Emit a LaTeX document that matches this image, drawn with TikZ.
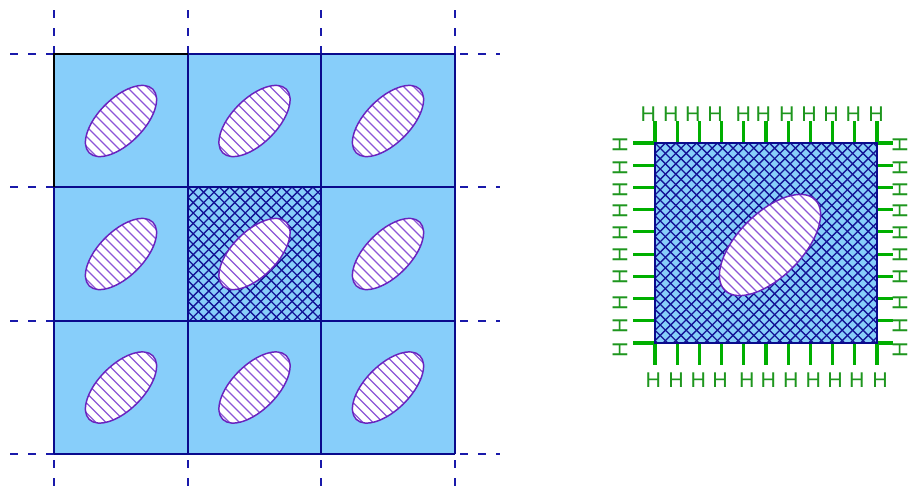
\documentclass[tikz,border=0pt]{standalone}
\usepackage{fontspec}
\setmainfont{Liberation Sans}
\definecolor{skyfill}{RGB}{135,206,250}
\definecolor{gridblue}{RGB}{10,10,140}
\definecolor{dashblue}{RGB}{25,25,170}
\definecolor{meshblue}{RGB}{20,20,150}
\definecolor{ovalline}{RGB}{105,35,190}
\definecolor{ovalhatch}{RGB}{140,85,215}
\definecolor{tickgreen}{RGB}{0,175,0}
\definecolor{labelgreen}{RGB}{30,150,30}

% A white oval tilted by 45 degrees, filled with diagonal hatching
\newcommand\hatchedoval[4]{% cx, cy, semi-major, semi-minor
  \begin{scope}
    \clip[rotate around={45:(#1,#2)}] (#1,#2) ellipse [x radius=#3, y radius=#4];
    \fill[white] ({#1-#3},{#2-#3}) rectangle ({#1+#3},{#2+#3});
    \foreach \k in {-10,...,10}
      \draw[hatchline] ({#1-#3+\k*10},{#2-#3}) -- ++({2*#3},{2*#3});
  \end{scope}
  \draw[ovalborder, rotate around={45:(#1,#2)}] (#1,#2) ellipse [x radius=#3, y radius=#4];
}
% Diagonal cross-hatching inside a rectangle (x1,y1)-(x2,y2)
\newcommand\crossmesh[4]{%
  \begin{scope}
    \clip (#1,#2) rectangle (#3,#4);
    \foreach \k in {-22,...,45} {
      \draw[meshline] ({#1+\k*10.4},#2) -- ++(230,230);
      \draw[meshline] ({#1+\k*10.4},#2) -- ++(-230,230);
    }
  \end{scope}
}

\begin{document}
\begin{tikzpicture}[x=0.75pt, y=-0.75pt,
  gridline/.style={draw=gridblue, line width=1.5pt},
  dashline/.style={draw=dashblue, line width=1.1pt, dash pattern=on 6pt off 7.5pt},
  hatchline/.style={draw=ovalhatch, line width=0.85pt},
  ovalborder/.style={draw=ovalline, line width=1.1pt},
  meshline/.style={draw=meshblue, line width=1pt},
  tick/.style={draw=tickgreen, line width=2.3pt},
  hlabel/.style={text=labelgreen, font=\fontsize{16}{16}\selectfont, inner sep=0pt, anchor=center}]
\useasboundingbox (0,0) rectangle (912,493);

% ---- periodic cell array ----
\foreach \p in {54,188,321,455} {
  \draw[dashline] (\p,10) -- (\p,493);
}
\foreach \p in {54,187,321,454} {
  \draw[dashline] (10,\p) -- (500,\p);
}
\fill[skyfill] (54,54) rectangle (455,454);
\crossmesh{188}{187}{321}{321}
\foreach \cx in {121,254.5,388} {
  \foreach \cy in {121,254,387.5} {
    \hatchedoval{\cx}{\cy}{45}{22.5}
  }
}
\foreach \p in {188,321,455} {
  \draw[gridline] (\p,54) -- (\p,454);
}
\foreach \p in {187,321,454} {
  \draw[gridline] (54,\p) -- (455,\p);
}
\draw[gridline] (54,187) -- (54,454);
\draw[gridline] (188,54) -- (455,54);
\draw[black, line width=1.5pt] (54,187) -- (54,54) -- (188,54);

% ---- single cell with boundary points ----
\foreach \i in {0,...,10} {
  \draw[tick] ({655+\i*22.2},143) -- ++(0,-22);
  \draw[tick] ({655+\i*22.2},343) -- ++(0,22);
}
\foreach \j in {0,...,9} {
  \draw[tick] (655,{143+\j*22.22}) -- ++(-22,0);
  \draw[tick] (877,{143+\j*22.22}) -- ++(16,0);
}
\fill[skyfill] (655,143) rectangle (877,343);
\crossmesh{655}{143}{877}{343}
\hatchedoval{770}{245}{64}{32}
\draw[draw=gridblue, line width=1.2pt] (655,143) rectangle (877,343);

\foreach \x [count=\n] in {648.3,670.7,692.7,715,743.3,763.3,786.7,809,831,853.3,876}
  \node[hlabel] (top\n) at (\x,114) {H};
\foreach \x [count=\n] in {653.3,676,698.3,720,746.7,768.3,790.7,813.3,835,856.7,880}
  \node[hlabel] (bot\n) at (\x,380.5) {H};
\foreach \y [count=\n] in {145,167.3,189.3,210.7,232.7,255,276.7,302.7,325.7,349.3} {
  \node[hlabel, rotate=90] (lft\n) at (620,\y) {H};
  \node[hlabel, rotate=90] (rgt\n) at (900,\y) {H};
}
\end{tikzpicture}
\end{document}
